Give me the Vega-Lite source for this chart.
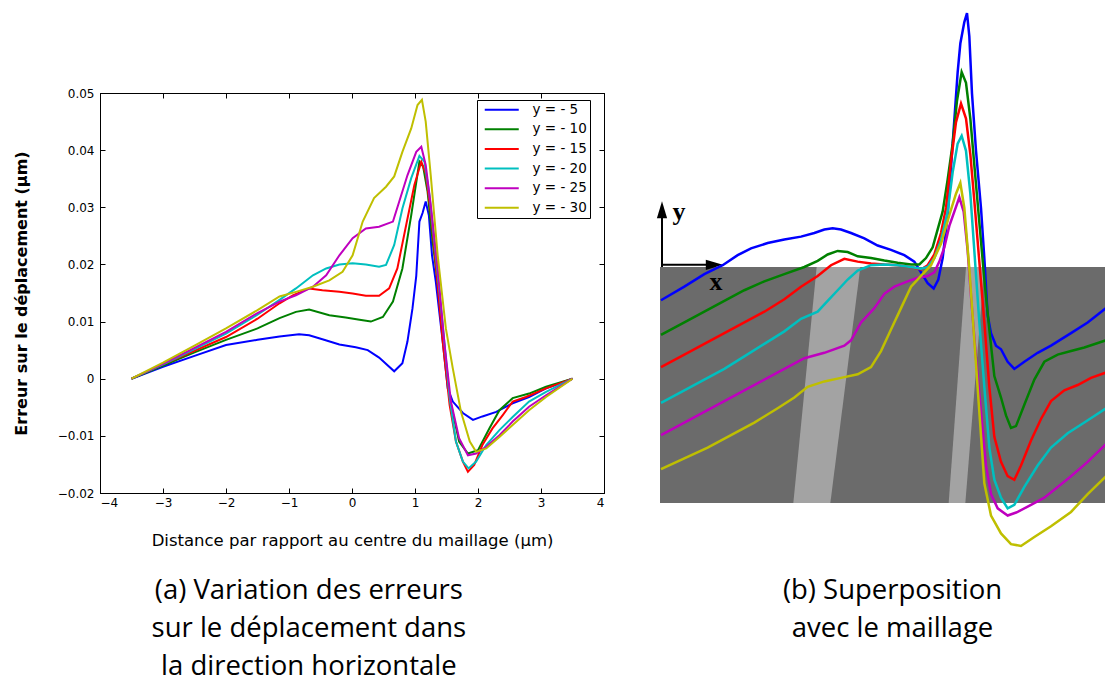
{
  "$schema": "https://vega.github.io/schema/vega-lite/v6.json",
  "background": "white",
  "padding": {"left": 12, "top": 8, "right": 0, "bottom": 0},
  "spacing": 51,
  "datasets": {
    "left": [
      {"s":"y = - 5","x":-3.5,"e":0},{"s":"y = - 5","x":-3,"e":0.0021},{"s":"y = - 5","x":-2.5,"e":0.0040},{"s":"y = - 5","x":-2,"e":0.0059},{"s":"y = - 5","x":-1.5,"e":0.0068},{"s":"y = - 5","x":-1.15,"e":0.0074},{"s":"y = - 5","x":-0.84,"e":0.0078},{"s":"y = - 5","x":-0.68,"e":0.0076},{"s":"y = - 5","x":-0.47,"e":0.0069},{"s":"y = - 5","x":-0.2,"e":0.0060},{"s":"y = - 5","x":0.06,"e":0.0055},{"s":"y = - 5","x":0.25,"e":0.0050},{"s":"y = - 5","x":0.43,"e":0.0037},{"s":"y = - 5","x":0.67,"e":0.0013},{"s":"y = - 5","x":0.8,"e":0.0027},{"s":"y = - 5","x":0.88,"e":0.0065},{"s":"y = - 5","x":0.96,"e":0.0123},{"s":"y = - 5","x":1.02,"e":0.018},{"s":"y = - 5","x":1.07,"e":0.0275},{"s":"y = - 5","x":1.12,"e":0.029},{"s":"y = - 5","x":1.17,"e":0.031},{"s":"y = - 5","x":1.22,"e":0.0286},{"s":"y = - 5","x":1.27,"e":0.0216},{"s":"y = - 5","x":1.33,"e":0.017},{"s":"y = - 5","x":1.44,"e":0.0065},{"s":"y = - 5","x":1.52,"e":-0.0017},{"s":"y = - 5","x":1.6,"e":-0.004},{"s":"y = - 5","x":1.76,"e":-0.006},{"s":"y = - 5","x":1.92,"e":-0.0072},{"s":"y = - 5","x":2.07,"e":-0.0066},{"s":"y = - 5","x":2.29,"e":-0.0058},{"s":"y = - 5","x":2.55,"e":-0.0043},{"s":"y = - 5","x":2.81,"e":-0.0032},{"s":"y = - 5","x":3.08,"e":-0.0017},{"s":"y = - 5","x":3.5,"e":0},
      {"s":"y = - 10","x":-3.5,"e":0},{"s":"y = - 10","x":-3,"e":0.0023},{"s":"y = - 10","x":-2.5,"e":0.0046},{"s":"y = - 10","x":-2,"e":0.0068},{"s":"y = - 10","x":-1.5,"e":0.0088},{"s":"y = - 10","x":-1.15,"e":0.0106},{"s":"y = - 10","x":-0.89,"e":0.0117},{"s":"y = - 10","x":-0.68,"e":0.0121},{"s":"y = - 10","x":-0.36,"e":0.0111},{"s":"y = - 10","x":-0.1,"e":0.0107},{"s":"y = - 10","x":0.12,"e":0.0103},{"s":"y = - 10","x":0.3,"e":0.0100},{"s":"y = - 10","x":0.49,"e":0.0108},{"s":"y = - 10","x":0.65,"e":0.0135},{"s":"y = - 10","x":0.8,"e":0.0193},{"s":"y = - 10","x":0.94,"e":0.0286},{"s":"y = - 10","x":1.07,"e":0.038},{"s":"y = - 10","x":1.13,"e":0.0371},{"s":"y = - 10","x":1.2,"e":0.0327},{"s":"y = - 10","x":1.28,"e":0.024},{"s":"y = - 10","x":1.39,"e":0.0141},{"s":"y = - 10","x":1.47,"e":0.0053},{"s":"y = - 10","x":1.55,"e":-0.0034},{"s":"y = - 10","x":1.7,"e":-0.011},{"s":"y = - 10","x":1.84,"e":-0.0131},{"s":"y = - 10","x":2.0,"e":-0.0125},{"s":"y = - 10","x":2.18,"e":-0.0087},{"s":"y = - 10","x":2.34,"e":-0.0055},{"s":"y = - 10","x":2.55,"e":-0.0034},{"s":"y = - 10","x":2.81,"e":-0.0026},{"s":"y = - 10","x":3.08,"e":-0.0014},{"s":"y = - 10","x":3.5,"e":0},
      {"s":"y = - 15","x":-3.5,"e":0},{"s":"y = - 15","x":-3,"e":0.0025},{"s":"y = - 15","x":-2.5,"e":0.0049},{"s":"y = - 15","x":-2,"e":0.0073},{"s":"y = - 15","x":-1.5,"e":0.0105},{"s":"y = - 15","x":-1.15,"e":0.0132},{"s":"y = - 15","x":-0.94,"e":0.0146},{"s":"y = - 15","x":-0.68,"e":0.0158},{"s":"y = - 15","x":-0.47,"e":0.0155},{"s":"y = - 15","x":-0.2,"e":0.0152},{"s":"y = - 15","x":0.01,"e":0.0149},{"s":"y = - 15","x":0.22,"e":0.0145},{"s":"y = - 15","x":0.43,"e":0.0145},{"s":"y = - 15","x":0.59,"e":0.0158},{"s":"y = - 15","x":0.72,"e":0.0193},{"s":"y = - 15","x":0.86,"e":0.0269},{"s":"y = - 15","x":0.99,"e":0.0339},{"s":"y = - 15","x":1.1,"e":0.038},{"s":"y = - 15","x":1.17,"e":0.0359},{"s":"y = - 15","x":1.25,"e":0.0292},{"s":"y = - 15","x":1.33,"e":0.0199},{"s":"y = - 15","x":1.44,"e":0.0065},{"s":"y = - 15","x":1.55,"e":-0.0046},{"s":"y = - 15","x":1.65,"e":-0.011},{"s":"y = - 15","x":1.76,"e":-0.0145},{"s":"y = - 15","x":1.84,"e":-0.0163},{"s":"y = - 15","x":1.94,"e":-0.0151},{"s":"y = - 15","x":2.07,"e":-0.0116},{"s":"y = - 15","x":2.23,"e":-0.0087},{"s":"y = - 15","x":2.39,"e":-0.0064},{"s":"y = - 15","x":2.55,"e":-0.004},{"s":"y = - 15","x":2.76,"e":-0.0032},{"s":"y = - 15","x":3.08,"e":-0.0017},{"s":"y = - 15","x":3.5,"e":0},
      {"s":"y = - 20","x":-3.5,"e":0},{"s":"y = - 20","x":-3,"e":0.0025},{"s":"y = - 20","x":-2.5,"e":0.0052},{"s":"y = - 20","x":-2,"e":0.0079},{"s":"y = - 20","x":-1.5,"e":0.0112},{"s":"y = - 20","x":-1.15,"e":0.0138},{"s":"y = - 20","x":-0.89,"e":0.0158},{"s":"y = - 20","x":-0.62,"e":0.0181},{"s":"y = - 20","x":-0.41,"e":0.0193},{"s":"y = - 20","x":-0.2,"e":0.0200},{"s":"y = - 20","x":0.01,"e":0.0202},{"s":"y = - 20","x":0.22,"e":0.0200},{"s":"y = - 20","x":0.43,"e":0.0196},{"s":"y = - 20","x":0.54,"e":0.0199},{"s":"y = - 20","x":0.67,"e":0.0234},{"s":"y = - 20","x":0.8,"e":0.0298},{"s":"y = - 20","x":0.94,"e":0.0351},{"s":"y = - 20","x":1.07,"e":0.039},{"s":"y = - 20","x":1.15,"e":0.038},{"s":"y = - 20","x":1.23,"e":0.0321},{"s":"y = - 20","x":1.33,"e":0.0216},{"s":"y = - 20","x":1.44,"e":0.0094},{"s":"y = - 20","x":1.55,"e":-0.0034},{"s":"y = - 20","x":1.65,"e":-0.011},{"s":"y = - 20","x":1.76,"e":-0.0145},{"s":"y = - 20","x":1.85,"e":-0.0157},{"s":"y = - 20","x":1.97,"e":-0.0145},{"s":"y = - 20","x":2.13,"e":-0.0116},{"s":"y = - 20","x":2.34,"e":-0.009},{"s":"y = - 20","x":2.55,"e":-0.0067},{"s":"y = - 20","x":2.81,"e":-0.004},{"s":"y = - 20","x":3.08,"e":-0.0023},{"s":"y = - 20","x":3.5,"e":0},
      {"s":"y = - 25","x":-3.5,"e":0},{"s":"y = - 25","x":-3,"e":0.0026},{"s":"y = - 25","x":-2.5,"e":0.0054},{"s":"y = - 25","x":-2,"e":0.0082},{"s":"y = - 25","x":-1.5,"e":0.0115},{"s":"y = - 25","x":-1.15,"e":0.0135},{"s":"y = - 25","x":-0.89,"e":0.0146},{"s":"y = - 25","x":-0.62,"e":0.0161},{"s":"y = - 25","x":-0.41,"e":0.0181},{"s":"y = - 25","x":-0.2,"e":0.0216},{"s":"y = - 25","x":0.01,"e":0.0246},{"s":"y = - 25","x":0.22,"e":0.0263},{"s":"y = - 25","x":0.43,"e":0.0266},{"s":"y = - 25","x":0.65,"e":0.0275},{"s":"y = - 25","x":0.75,"e":0.031},{"s":"y = - 25","x":0.88,"e":0.0356},{"s":"y = - 25","x":1.02,"e":0.0397},{"s":"y = - 25","x":1.1,"e":0.0406},{"s":"y = - 25","x":1.17,"e":0.0374},{"s":"y = - 25","x":1.25,"e":0.0304},{"s":"y = - 25","x":1.36,"e":0.0193},{"s":"y = - 25","x":1.47,"e":0.0059},{"s":"y = - 25","x":1.57,"e":-0.004},{"s":"y = - 25","x":1.7,"e":-0.0104},{"s":"y = - 25","x":1.84,"e":-0.0134},{"s":"y = - 25","x":1.97,"e":-0.0131},{"s":"y = - 25","x":2.13,"e":-0.0119},{"s":"y = - 25","x":2.34,"e":-0.0099},{"s":"y = - 25","x":2.55,"e":-0.0075},{"s":"y = - 25","x":2.81,"e":-0.0049},{"s":"y = - 25","x":3.08,"e":-0.0029},{"s":"y = - 25","x":3.5,"e":0},
      {"s":"y = - 30","x":-3.5,"e":0},{"s":"y = - 30","x":-3,"e":0.0028},{"s":"y = - 30","x":-2.5,"e":0.0058},{"s":"y = - 30","x":-2,"e":0.0088},{"s":"y = - 30","x":-1.5,"e":0.0120},{"s":"y = - 30","x":-1.15,"e":0.0144},{"s":"y = - 30","x":-0.89,"e":0.0152},{"s":"y = - 30","x":-0.62,"e":0.0161},{"s":"y = - 30","x":-0.36,"e":0.0172},{"s":"y = - 30","x":-0.15,"e":0.0187},{"s":"y = - 30","x":0.01,"e":0.0216},{"s":"y = - 30","x":0.17,"e":0.0275},{"s":"y = - 30","x":0.35,"e":0.0316},{"s":"y = - 30","x":0.54,"e":0.0336},{"s":"y = - 30","x":0.67,"e":0.0354},{"s":"y = - 30","x":0.8,"e":0.0397},{"s":"y = - 30","x":0.94,"e":0.0438},{"s":"y = - 30","x":1.04,"e":0.0479},{"s":"y = - 30","x":1.11,"e":0.0488},{"s":"y = - 30","x":1.17,"e":0.045},{"s":"y = - 30","x":1.25,"e":0.0356},{"s":"y = - 30","x":1.36,"e":0.0216},{"s":"y = - 30","x":1.49,"e":0.0088},{"s":"y = - 30","x":1.6,"e":0.0018},{"s":"y = - 30","x":1.73,"e":-0.0058},{"s":"y = - 30","x":1.87,"e":-0.011},{"s":"y = - 30","x":1.97,"e":-0.0128},{"s":"y = - 30","x":2.13,"e":-0.0122},{"s":"y = - 30","x":2.34,"e":-0.0102},{"s":"y = - 30","x":2.55,"e":-0.0081},{"s":"y = - 30","x":2.81,"e":-0.0055},{"s":"y = - 30","x":3.08,"e":-0.0032},{"s":"y = - 30","x":3.5,"e":0}
    ],
    "mesh": [{"u1": 27, "u2": 1365, "v1": 745, "v2": 1405}],
    "stripes": [
      {"k": 1, "v": 745, "u1": 497, "u2": 628}, {"k": 1, "v": 1405, "u1": 427, "u2": 538},
      {"k": 2, "v": 745, "u1": 945, "u2": 1000}, {"k": 2, "v": 1405, "u1": 893, "u2": 943}
    ],
    "arrows": [
      {"u1": 33, "u2": 33, "v1": 745, "v2": 602},
      {"u1": 33, "u2": 165, "v1": 739, "v2": 739}
    ],
    "heads": [
      {"dir": "up", "u": 33, "v": 585},
      {"dir": "right", "u": 190, "v": 739}
    ],
    "axlabels": [
      {"t": "y", "u": 84, "v": 591},
      {"t": "x", "u": 195, "v": 787}
    ],
    "right": [
      {"c":"b","u":30,"v":838},{"c":"b","u":100,"v":800},{"c":"b","u":160,"v":765},{"c":"b","u":215,"v":740},{"c":"b","u":260,"v":712},{"c":"b","u":300,"v":693},{"c":"b","u":350,"v":678},{"c":"b","u":400,"v":668},{"c":"b","u":450,"v":660},{"c":"b","u":490,"v":650},{"c":"b","u":520,"v":640},{"c":"b","u":545,"v":637},{"c":"b","u":570,"v":640},{"c":"b","u":600,"v":650},{"c":"b","u":640,"v":665},{"c":"b","u":680,"v":685},{"c":"b","u":720,"v":697},{"c":"b","u":760,"v":712},{"c":"b","u":790,"v":730},{"c":"b","u":810,"v":760},{"c":"b","u":830,"v":790},{"c":"b","u":848,"v":805},{"c":"b","u":862,"v":780},{"c":"b","u":875,"v":720},{"c":"b","u":890,"v":600},{"c":"b","u":905,"v":400},{"c":"b","u":920,"v":200},{"c":"b","u":928,"v":120},{"c":"b","u":940,"v":60},{"c":"b","u":948,"v":35},{"c":"b","u":955,"v":100},{"c":"b","u":963,"v":260},{"c":"b","u":975,"v":420},{"c":"b","u":990,"v":580},{"c":"b","u":1000,"v":720},{"c":"b","u":1010,"v":880},{"c":"b","u":1020,"v":930},{"c":"b","u":1035,"v":965},{"c":"b","u":1050,"v":975},{"c":"b","u":1070,"v":1010},{"c":"b","u":1090,"v":1030},{"c":"b","u":1120,"v":1010},{"c":"b","u":1160,"v":985},{"c":"b","u":1200,"v":965},{"c":"b","u":1260,"v":930},{"c":"b","u":1310,"v":900},{"c":"b","u":1365,"v":860},
      {"c":"g","u":30,"v":935},{"c":"g","u":100,"v":900},{"c":"g","u":160,"v":870},{"c":"g","u":220,"v":840},{"c":"g","u":280,"v":810},{"c":"g","u":340,"v":785},{"c":"g","u":400,"v":765},{"c":"g","u":460,"v":745},{"c":"g","u":500,"v":728},{"c":"g","u":530,"v":710},{"c":"g","u":560,"v":700},{"c":"g","u":590,"v":703},{"c":"g","u":620,"v":715},{"c":"g","u":660,"v":720},{"c":"g","u":700,"v":727},{"c":"g","u":740,"v":733},{"c":"g","u":780,"v":738},{"c":"g","u":805,"v":738},{"c":"g","u":825,"v":720},{"c":"g","u":845,"v":690},{"c":"g","u":860,"v":640},{"c":"g","u":875,"v":590},{"c":"g","u":890,"v":500},{"c":"g","u":905,"v":400},{"c":"g","u":918,"v":280},{"c":"g","u":932,"v":200},{"c":"g","u":945,"v":230},{"c":"g","u":958,"v":330},{"c":"g","u":970,"v":460},{"c":"g","u":985,"v":620},{"c":"g","u":1000,"v":780},{"c":"g","u":1015,"v":920},{"c":"g","u":1030,"v":1050},{"c":"g","u":1050,"v":1110},{"c":"g","u":1065,"v":1160},{"c":"g","u":1080,"v":1195},{"c":"g","u":1095,"v":1190},{"c":"g","u":1120,"v":1130},{"c":"g","u":1150,"v":1060},{"c":"g","u":1180,"v":1010},{"c":"g","u":1220,"v":990},{"c":"g","u":1260,"v":980},{"c":"g","u":1300,"v":970},{"c":"g","u":1365,"v":950},
      {"c":"r","u":30,"v":1025},{"c":"r","u":100,"v":990},{"c":"r","u":160,"v":960},{"c":"r","u":220,"v":930},{"c":"r","u":280,"v":900},{"c":"r","u":340,"v":870},{"c":"r","u":400,"v":835},{"c":"r","u":450,"v":800},{"c":"r","u":500,"v":770},{"c":"r","u":540,"v":740},{"c":"r","u":580,"v":722},{"c":"r","u":620,"v":730},{"c":"r","u":660,"v":735},{"c":"r","u":700,"v":738},{"c":"r","u":740,"v":740},{"c":"r","u":780,"v":745},{"c":"r","u":810,"v":752},{"c":"r","u":830,"v":740},{"c":"r","u":850,"v":710},{"c":"r","u":870,"v":650},{"c":"r","u":885,"v":580},{"c":"r","u":900,"v":450},{"c":"r","u":915,"v":340},{"c":"r","u":930,"v":288},{"c":"r","u":945,"v":330},{"c":"r","u":958,"v":430},{"c":"r","u":970,"v":560},{"c":"r","u":985,"v":730},{"c":"r","u":1000,"v":900},{"c":"r","u":1015,"v":1080},{"c":"r","u":1030,"v":1220},{"c":"r","u":1050,"v":1290},{"c":"r","u":1070,"v":1330},{"c":"r","u":1090,"v":1340},{"c":"r","u":1110,"v":1300},{"c":"r","u":1140,"v":1230},{"c":"r","u":1170,"v":1170},{"c":"r","u":1200,"v":1120},{"c":"r","u":1240,"v":1090},{"c":"r","u":1280,"v":1075},{"c":"r","u":1320,"v":1055},{"c":"r","u":1365,"v":1040},
      {"c":"c","u":30,"v":1125},{"c":"c","u":100,"v":1090},{"c":"c","u":160,"v":1060},{"c":"c","u":220,"v":1030},{"c":"c","u":280,"v":995},{"c":"c","u":340,"v":960},{"c":"c","u":400,"v":925},{"c":"c","u":450,"v":890},{"c":"c","u":500,"v":870},{"c":"c","u":530,"v":840},{"c":"c","u":560,"v":810},{"c":"c","u":590,"v":780},{"c":"c","u":620,"v":755},{"c":"c","u":660,"v":740},{"c":"c","u":700,"v":738},{"c":"c","u":740,"v":740},{"c":"c","u":780,"v":745},{"c":"c","u":810,"v":750},{"c":"c","u":830,"v":745},{"c":"c","u":850,"v":720},{"c":"c","u":870,"v":670},{"c":"c","u":890,"v":590},{"c":"c","u":905,"v":480},{"c":"c","u":920,"v":400},{"c":"c","u":932,"v":378},{"c":"c","u":945,"v":420},{"c":"c","u":958,"v":540},{"c":"c","u":970,"v":700},{"c":"c","u":985,"v":900},{"c":"c","u":1000,"v":1080},{"c":"c","u":1015,"v":1250},{"c":"c","u":1030,"v":1340},{"c":"c","u":1050,"v":1390},{"c":"c","u":1070,"v":1420},{"c":"c","u":1090,"v":1410},{"c":"c","u":1120,"v":1360},{"c":"c","u":1160,"v":1300},{"c":"c","u":1200,"v":1250},{"c":"c","u":1250,"v":1210},{"c":"c","u":1300,"v":1180},{"c":"c","u":1365,"v":1140},
      {"c":"m","u":30,"v":1215},{"c":"m","u":100,"v":1180},{"c":"m","u":160,"v":1150},{"c":"m","u":220,"v":1120},{"c":"m","u":280,"v":1090},{"c":"m","u":340,"v":1060},{"c":"m","u":400,"v":1030},{"c":"m","u":460,"v":1000},{"c":"m","u":520,"v":985},{"c":"m","u":580,"v":965},{"c":"m","u":600,"v":950},{"c":"m","u":630,"v":900},{"c":"m","u":670,"v":860},{"c":"m","u":700,"v":820},{"c":"m","u":730,"v":800},{"c":"m","u":770,"v":785},{"c":"m","u":800,"v":775},{"c":"m","u":830,"v":770},{"c":"m","u":850,"v":760},{"c":"m","u":865,"v":730},{"c":"m","u":880,"v":690},{"c":"m","u":895,"v":630},{"c":"m","u":910,"v":590},{"c":"m","u":925,"v":550},{"c":"m","u":938,"v":590},{"c":"m","u":950,"v":700},{"c":"m","u":962,"v":850},{"c":"m","u":975,"v":1000},{"c":"m","u":990,"v":1150},{"c":"m","u":1005,"v":1300},{"c":"m","u":1020,"v":1380},{"c":"m","u":1040,"v":1420},{"c":"m","u":1070,"v":1440},{"c":"m","u":1100,"v":1430},{"c":"m","u":1140,"v":1410},{"c":"m","u":1180,"v":1390},{"c":"m","u":1220,"v":1360},{"c":"m","u":1260,"v":1330},{"c":"m","u":1310,"v":1290},{"c":"m","u":1365,"v":1240},
      {"c":"y","u":30,"v":1310},{"c":"y","u":100,"v":1280},{"c":"y","u":170,"v":1250},{"c":"y","u":240,"v":1215},{"c":"y","u":310,"v":1180},{"c":"y","u":380,"v":1140},{"c":"y","u":430,"v":1110},{"c":"y","u":470,"v":1080},{"c":"y","u":520,"v":1065},{"c":"y","u":570,"v":1055},{"c":"y","u":620,"v":1045},{"c":"y","u":660,"v":1025},{"c":"y","u":690,"v":980},{"c":"y","u":720,"v":920},{"c":"y","u":750,"v":860},{"c":"y","u":780,"v":800},{"c":"y","u":810,"v":770},{"c":"y","u":840,"v":740},{"c":"y","u":870,"v":680},{"c":"y","u":895,"v":600},{"c":"y","u":915,"v":540},{"c":"y","u":928,"v":510},{"c":"y","u":940,"v":580},{"c":"y","u":955,"v":750},{"c":"y","u":970,"v":950},{"c":"y","u":985,"v":1150},{"c":"y","u":1000,"v":1350},{"c":"y","u":1020,"v":1440},{"c":"y","u":1050,"v":1490},{"c":"y","u":1080,"v":1520},{"c":"y","u":1110,"v":1525},{"c":"y","u":1150,"v":1500},{"c":"y","u":1200,"v":1470},{"c":"y","u":1260,"v":1430},{"c":"y","u":1310,"v":1380},{"c":"y","u":1365,"v":1330}
    ]
  },
  "hconcat": [
    {
      "width": 504,
      "height": 400,
      "view": {"stroke": "black", "strokeWidth": 1},
      "title": {
        "text": ["(a) Variation des erreurs", "sur le déplacement dans", "la direction horizontale"],
        "orient": "bottom", "anchor": "middle", "frame": "bounds",
        "font": "Open Sans", "fontSize": 27.5, "fontWeight": "normal", "lineHeight": 38,
        "offset": 28, "color": "black"
      },
      "data": {"name": "left"},
      "layer": [
        {
          "mark": {"type": "line", "strokeWidth": 2},
          "encoding": {
            "x": {
              "field": "x", "type": "quantitative",
              "scale": {"domain": [-4, 4], "nice": false, "zero": false},
              "axis": {
                "values": [-4, -3, -2, -1, 0, 1, 2, 3, 4], "format": "~g",
                "title": "Distance par rapport au centre du maillage (μm)",
                "grid": false, "tickSize": -5, "domainColor": "black", "tickColor": "black",
                "labelColor": "black", "labelFont": "DejaVu Sans", "labelFontSize": 12, "labelPadding": 9,
                "titleFont": "DejaVu Sans", "titleFontSize": 16.5, "titleFontWeight": "normal",
                "titleColor": "black", "titlePadding": 24
              }
            },
            "y": {
              "field": "e", "type": "quantitative",
              "scale": {"domain": [-0.02, 0.05], "nice": false, "zero": false},
              "axis": {
                "values": [-0.02, -0.01, 0, 0.01, 0.02, 0.03, 0.04, 0.05], "format": "~g",
                "title": "Erreur sur le déplacement (μm)",
                "grid": false, "tickSize": -5, "domainColor": "black", "tickColor": "black",
                "labelColor": "black", "labelFont": "DejaVu Sans", "labelFontSize": 12, "labelPadding": 11,
                "titleFont": "DejaVu Sans", "titleFontSize": 16, "titleFontWeight": "bold",
                "titleColor": "black", "titlePadding": 28
              }
            },
            "color": {
              "field": "s", "type": "nominal",
              "scale": {
                "domain": ["y = - 5", "y = - 10", "y = - 15", "y = - 20", "y = - 25", "y = - 30"],
                "range": ["#0000ff", "#008000", "#ff0000", "#00bfbf", "#bf00bf", "#bfbf00"]
              },
              "legend": {
                "orient": "none", "legendX": 377, "legendY": 7, "title": null,
                "symbolType": "M-0.4,0H6.4", "symbolSize": 100, "symbolStrokeWidth": 2,
                "labelFont": "DejaVu Sans", "labelFontSize": 13.5, "labelColor": "black", "labelOffset": 39,
                "strokeColor": "black", "fillColor": "white", "padding": 3, "rowPadding": 4.6, "cornerRadius": 0
              }
            }
          }
        },
        {
          "mark": {"type": "line", "opacity": 0},
          "encoding": {
            "x": {
              "field": "x", "type": "quantitative",
              "scale": {"domain": [-4, 4], "nice": false, "zero": false},
              "axis": {"orient": "top", "values": [-4, -3, -2, -1, 0, 1, 2, 3, 4], "labels": false, "title": null, "grid": false, "tickSize": -5, "domainColor": "black", "tickColor": "black"}
            },
            "y": {
              "field": "e", "type": "quantitative",
              "scale": {"domain": [-0.02, 0.05], "nice": false, "zero": false},
              "axis": {"orient": "right", "values": [-0.02, -0.01, 0, 0.01, 0.02, 0.03, 0.04, 0.05], "labels": false, "title": null, "grid": false, "tickSize": -5, "domainColor": "black", "tickColor": "black"}
            },
            "detail": {"field": "s", "type": "nominal"}
          }
        }
      ],
      "resolve": {"axis": {"x": "independent", "y": "independent"}}
    },
    {
      "width": 446,
      "height": 400,
      "view": {"stroke": null},
      "title": {
        "text": ["(b) Superposition", "avec le maillage"],
        "orient": "bottom", "anchor": "middle", "frame": "bounds",
        "font": "Open Sans", "fontSize": 27.5, "fontWeight": "normal", "lineHeight": 38,
        "offset": 26, "dx": 9, "color": "black"
      },
      "layer": [
        {
          "data": {"name": "mesh"},
          "mark": {"type": "rect", "color": "#6b6b6b"},
          "encoding": {
            "x": {"field": "u1", "type": "quantitative", "scale": {"domain": [27, 1365], "nice": false, "zero": false}, "axis": null},
            "x2": {"field": "u2"},
            "y": {"field": "v1", "type": "quantitative", "scale": {"domain": [258.4, 1377], "nice": false, "zero": false, "reverse": true}, "axis": null},
            "y2": {"field": "v2"}
          }
        },
        {
          "data": {"name": "stripes"},
          "mark": {"type": "area", "orient": "horizontal", "color": "#a3a3a3"},
          "encoding": {
            "y": {"field": "v", "type": "quantitative", "scale": {"domain": [258.4, 1377], "nice": false, "zero": false, "reverse": true}, "axis": null},
            "x": {"field": "u1", "type": "quantitative", "scale": {"domain": [27, 1365], "nice": false, "zero": false}, "axis": null},
            "x2": {"field": "u2"},
            "detail": {"field": "k", "type": "nominal"}
          }
        },
        {
          "data": {"name": "arrows"},
          "mark": {"type": "rule", "color": "black", "strokeWidth": 2},
          "encoding": {
            "x": {"field": "u1", "type": "quantitative", "scale": {"domain": [27, 1365], "nice": false, "zero": false}, "axis": null},
            "x2": {"field": "u2"},
            "y": {"field": "v1", "type": "quantitative", "scale": {"domain": [258.4, 1377], "nice": false, "zero": false, "reverse": true}, "axis": null},
            "y2": {"field": "v2"}
          }
        },
        {
          "data": {"name": "heads"},
          "mark": {"type": "point", "filled": true, "color": "black", "opacity": 1, "size": 289},
          "encoding": {
            "x": {"field": "u", "type": "quantitative", "scale": {"domain": [27, 1365], "nice": false, "zero": false}, "axis": null},
            "y": {"field": "v", "type": "quantitative", "scale": {"domain": [258.4, 1377], "nice": false, "zero": false, "reverse": true}, "axis": null},
            "shape": {"field": "dir", "type": "nominal", "scale": {"domain": ["up", "right"], "range": ["M-0.6,1L0,-1L0.6,1Z", "M-1,-0.6L1,0L-1,0.6Z"]}, "legend": null}
          }
        },
        {
          "data": {"name": "axlabels"},
          "mark": {"type": "text", "font": "Liberation Serif", "fontWeight": "bold", "fontSize": 26, "color": "black", "baseline": "middle", "align": "center"},
          "encoding": {
            "x": {"field": "u", "type": "quantitative", "scale": {"domain": [27, 1365], "nice": false, "zero": false}, "axis": null},
            "y": {"field": "v", "type": "quantitative", "scale": {"domain": [258.4, 1377], "nice": false, "zero": false, "reverse": true}, "axis": null},
            "text": {"field": "t", "type": "nominal"}
          }
        },
        {
          "data": {"name": "right"},
          "mark": {"type": "line", "strokeWidth": 2.5},
          "encoding": {
            "x": {"field": "u", "type": "quantitative", "scale": {"domain": [27, 1365], "nice": false, "zero": false}, "axis": null},
            "y": {"field": "v", "type": "quantitative", "scale": {"domain": [258.4, 1377], "nice": false, "zero": false, "reverse": true}, "axis": null},
            "color": {
              "field": "c", "type": "nominal",
              "scale": {"domain": ["b", "g", "r", "c", "m", "y"], "range": ["#0000ff", "#008000", "#ff0000", "#00bfbf", "#bf00bf", "#bfbf00"]},
              "legend": null
            }
          }
        }
      ]
    }
  ],
  "resolve": {"scale": {"color": "independent", "shape": "independent"}, "legend": {"color": "independent"}},
  "config": {"font": "DejaVu Sans"}
}
